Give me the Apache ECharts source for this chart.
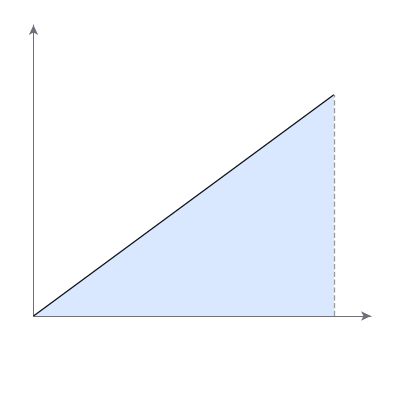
<!DOCTYPE html>
<html>
<head>
<meta charset="utf-8">
<script src="https://cdn.jsdelivr.net/npm/echarts@6/dist/echarts.min.js"></script>
<style>
  html, body { margin: 0; padding: 0; background: #fff; }
  #main { width: 400px; height: 400px; }
</style>
</head>
<body>
<div id="main"></div>
<script>
// line from origin to end point, area filled underneath
var xValues = [0, 8.9];
var yValues = [0, 7.6];
var xMax = 10;
var yMax = 10;

var lineData = xValues.map(function (x, i) { return [x, yValues[i]]; });
var endX = xValues[xValues.length - 1];
var endY = yValues[yValues.length - 1];

var dom = document.getElementById("main");
var myChart = echarts.init(dom);
var option = {
    animation: false,
    grid: {left: 33.5, right: 29, top: 25, bottom: 84},
    xAxis: {
        type: 'value',
        min: 0,
        max: xMax,
        axisLine: {
            show: true,
            symbol: ['none', 'arrow'],
            symbolSize: [7, 10],
            lineStyle: {color: '#6E7079'}
        },
        axisTick: {show: false},
        axisLabel: {show: false},
        splitLine: {show: false}
    },
    yAxis: {
        type: 'value',
        min: 0,
        max: yMax,
        axisLine: {
            show: true,
            symbol: ['none', 'arrow'],
            symbolSize: [7, 10],
            lineStyle: {color: '#6E7079'}
        },
        axisTick: {show: false},
        axisLabel: {show: false},
        splitLine: {show: false}
    },
    series: [{
        type: 'line',
        data: lineData,
        symbol: 'none',
        lineStyle: {color: '#111', width: 1.3},
        areaStyle: {color: '#d9e8ff', opacity: 1},
        markLine: {
            silent: true,
            symbol: 'none',
            label: {show: false},
            lineStyle: {color: '#999', type: 'dashed', width: 1.3},
            data: [[{coord: [endX, 0]}, {coord: [endX, endY]}]]
        }
    }]
};
myChart.setOption(option, true);
</script>
</body>
</html>
